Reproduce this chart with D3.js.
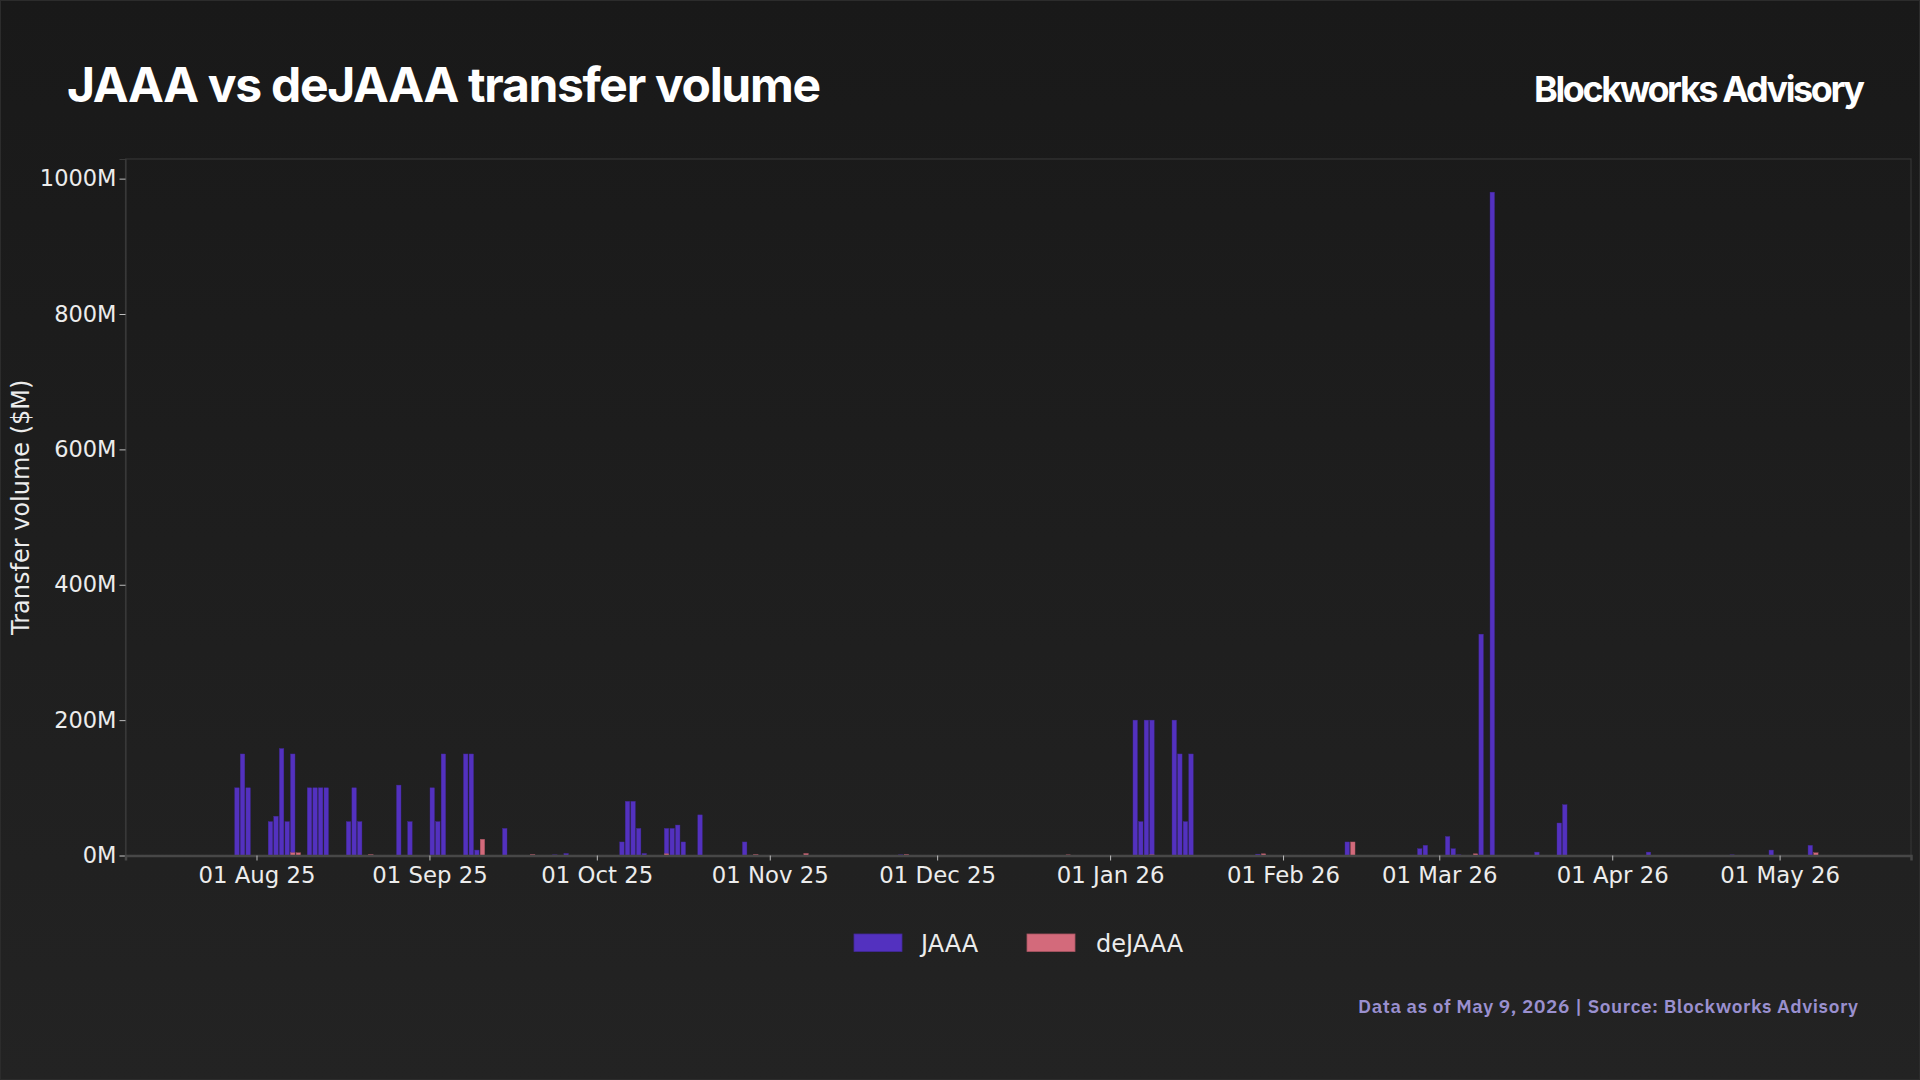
<!DOCTYPE html>
<html>
<head>
<meta charset="utf-8">
<script src="https://cdn.jsdelivr.net/npm/d3@7/dist/d3.min.js"></script>
<style>
  html, body { margin: 0; padding: 0; background: #1c1c1c; }
  svg { display: block; }
</style>
</head>
<body>
<svg id="chart" width="1920" height="1080"></svg>
<script>
// ---- Data (values in $M, one entry per day) ----
const jaaaDates = [
  "2025-07-28","2025-07-29","2025-07-30","2025-08-03","2025-08-04","2025-08-05","2025-08-06","2025-08-07",
  "2025-08-10","2025-08-11","2025-08-12","2025-08-13","2025-08-17","2025-08-18","2025-08-19","2025-08-26",
  "2025-08-28","2025-09-01","2025-09-02","2025-09-03","2025-09-07","2025-09-08","2025-09-09","2025-09-14",
  "2025-09-23","2025-09-25","2025-10-05","2025-10-06","2025-10-07","2025-10-08","2025-10-09","2025-10-13",
  "2025-10-14","2025-10-15","2025-10-16","2025-10-19","2025-10-27","2025-11-24","2026-01-05","2026-01-06",
  "2026-01-07","2026-01-08","2026-01-12","2026-01-13","2026-01-14","2026-01-15","2026-01-27","2026-02-12",
  "2026-02-24","2026-02-25","2026-02-26","2026-03-02","2026-03-03","2026-03-04","2026-03-08","2026-03-10",
  "2026-03-18","2026-03-22","2026-03-23","2026-04-07","2026-04-22","2026-04-29","2026-05-06"
];
const jaaaValues = [
  100,150,100,50,58,158,50,150,
  100,100,100,100,50,100,50,104,
  50,100,50,150,150,150,8,40,
  1,3,20,80,80,40,3,40,
  40,45,20,60,20,1,200,50,
  200,200,200,150,50,150,2,20,
  0.5,10,15,28,10,1,327,980,
  5,48,75,5,1,8,15
];
const dejaaaDates = [
  "2025-08-07","2025-08-08","2025-08-21","2025-09-10","2025-09-19","2025-10-13","2025-10-29","2025-11-07",
  "2025-11-25","2025-12-24","2026-01-08","2026-01-28","2026-02-13","2026-03-07","2026-05-07"
];
const dejaaaValues = [4,4,1.5,24,1.5,2.5,1.5,3,1.5,1,1,2.5,20,2.5,4];

const seriesNames = ["JAAA", "deJAAA"];
const seriesColors = ["#5331bf", "#d36a7b"];
const yTickValues = [0, 200, 400, 600, 800, 1000];
const xTickDates = ["2025-08-01","2025-09-01","2025-10-01","2025-11-01","2025-12-01",
                    "2026-01-01","2026-02-01","2026-03-01","2026-04-01","2026-05-01"];
const xDomainDates = ["2025-07-08T12:30:00Z", "2026-05-24T13:15:00Z"];

const titleText = "JAAA vs deJAAA transfer volume";
const brandText = "Blockworks Advisory";
const footerText = "Data as of May 9, 2026 | Source: Blockworks Advisory";
const yAxisTitle = "Transfer volume ($M)";

// ---- Build ----
const svg = d3.select("#chart");
const W = 1920, H = 1080;
const plot = { left: 125.5, right: 1911, top: 159, bottom: 855.5 };

const defs = svg.append("defs");
const grad = defs.append("linearGradient").attr("id", "bg").attr("x1", 0).attr("y1", 0).attr("x2", 0).attr("y2", 1);
grad.append("stop").attr("offset", "0%").attr("stop-color", "#191919");
grad.append("stop").attr("offset", "100%").attr("stop-color", "#232323");
svg.append("rect").attr("width", W).attr("height", H).attr("fill", "url(#bg)");
svg.append("rect").attr("x", 0.5).attr("y", 0.5).attr("width", W - 1).attr("height", H - 1)
  .attr("fill", "none").attr("stroke", "#2c2c2c").attr("stroke-width", 1);

const parseDay = s => new Date(s + "T12:00:00Z");
const jaaa = jaaaDates.map((d, i) => ({ date: parseDay(d), value: jaaaValues[i] }));
const dejaaa = dejaaaDates.map((d, i) => ({ date: parseDay(d), value: dejaaaValues[i] }));

const x = d3.scaleUtc()
  .domain(xDomainDates.map(s => new Date(s)))
  .range([plot.left, plot.right]);
const yMax = d3.max(jaaaValues.concat(dejaaaValues)) * 1.05;
const y = d3.scaleLinear().domain([0, yMax]).range([plot.bottom, plot.top]);

const dayPx = x(new Date("2025-08-02T00:00:00Z")) - x(new Date("2025-08-01T00:00:00Z"));
const barW = dayPx * 0.8;

// plot frame
svg.append("rect")
  .attr("x", plot.left).attr("y", plot.top)
  .attr("width", plot.right - plot.left).attr("height", plot.bottom - plot.top)
  .attr("fill", "none").attr("stroke", "#353535").attr("stroke-width", 1.2);

// bars
const gBars = svg.append("g");
[jaaa, dejaaa].forEach((data, si) => {
  gBars.append("g").selectAll("rect").data(data).join("rect")
    .attr("x", d => x(d.date) - barW / 2)
    .attr("y", d => y(d.value))
    .attr("width", barW)
    .attr("height", d => Math.max(0, y(0) - y(d.value)))
    .attr("fill", seriesColors[si])
    .attr("stroke", d3.color(seriesColors[si]).darker(0.6))
    .attr("stroke-width", 0.4);
});

// axes
const fontAxis = "'DejaVu Sans', sans-serif";
const yAxis = d3.axisLeft(y).tickValues(yTickValues).tickFormat(d => d + "M").tickSize(6).tickPadding(3);
const gy = svg.append("g").attr("transform", `translate(${plot.left},0)`).call(yAxis);
gy.select(".domain").attr("stroke", "#3a3a3a").attr("stroke-width", 1.2);
gy.selectAll(".tick line").attr("stroke", "#bdbdbd");
gy.selectAll(".tick text").attr("fill", "#ececec").style("font-family", fontAxis).style("font-size", "22.5px");

const xAxis = d3.axisBottom(x)
  .tickValues(xTickDates.map(s => new Date(s + "T00:00:00Z")))
  .tickFormat(d3.utcFormat("%d %b %y")).tickSize(5).tickPadding(6);
const gx = svg.append("g").attr("transform", `translate(0,${plot.bottom})`).call(xAxis);
gx.select(".domain").attr("stroke", "#474747").attr("stroke-width", 2.5);
gx.selectAll(".tick line").attr("stroke", "#bdbdbd");
gx.selectAll(".tick text").attr("fill", "#ececec").style("font-family", fontAxis).style("font-size", "22.8px");

// y axis title
svg.append("text")
  .attr("transform", `translate(29,${(plot.top + plot.bottom) / 2}) rotate(-90)`)
  .attr("text-anchor", "middle")
  .attr("fill", "#ececec")
  .style("font-family", fontAxis).style("font-size", "24px")
  .text(yAxisTitle);

// helper: fit text to a width with letter spacing
function fitText(sel, target) {
  const n = sel.text().length;
  const len = sel.node().getComputedTextLength();
  const ls = (target - len) / Math.max(1, n - 1);
  sel.attr("letter-spacing", ls.toFixed(3));
}

// title
const title = svg.append("text").attr("x", 67).attr("y", 102)
  .attr("fill", "#ffffff")
  .style("font-family", "Inter, 'Noto Sans', sans-serif").style("font-weight", 700).style("font-size", "48px")
  .text(titleText);
fitText(title, 754);

// brand
const brand = svg.append("text").attr("x", 1534).attr("y", 102)
  .attr("fill", "#ffffff")
  .style("font-family", "Inter, 'Noto Sans', sans-serif").style("font-weight", 700).style("font-size", "36px")
  .text(brandText);
fitText(brand, 331);

// legend
const legend = svg.append("g");
const legendItems = [
  { name: seriesNames[0], color: seriesColors[0], rx: 854, tx: 921 },
  { name: seriesNames[1], color: seriesColors[1], rx: 1027, tx: 1096 }
];
legendItems.forEach(it => {
  legend.append("rect").attr("x", it.rx).attr("y", 934).attr("width", 48).attr("height", 17.5)
    .attr("fill", it.color).attr("stroke", d3.color(it.color).darker(0.6)).attr("stroke-width", 0.8);
  legend.append("text").attr("x", it.tx).attr("y", 951.5)
    .attr("fill", "#ececec")
    .style("font-family", fontAxis).style("font-size", "24px")
    .text(it.name);
});

// footer
const footer = svg.append("text").attr("x", 1358).attr("y", 1013)
  .attr("fill", "#9a90cf")
  .style("font-family", "'IBM Plex Sans', 'Noto Sans', sans-serif").style("font-weight", 600).style("font-size", "19px")
  .text(footerText);
fitText(footer, 500);
</script>
</body>
</html>
